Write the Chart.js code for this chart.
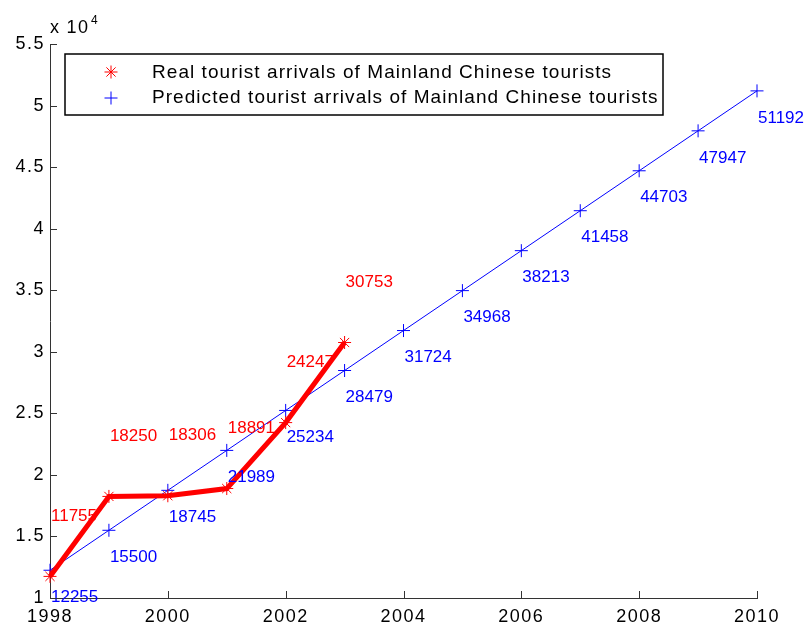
<!DOCTYPE html>
<html>
<head>
<meta charset="utf-8">
<script src="https://cdn.jsdelivr.net/npm/chart.js@4.4.1/dist/chart.umd.min.js"></script>
<style>
  body { margin: 0; background: #fff; }
  #tourismChart { display: block; }
</style>
</head>
<body>
<canvas id="tourismChart" width="807" height="630"></canvas>
<script>
// data
const realYears = [1998, 1999, 2000, 2001, 2002, 2003];
const realArrivals = [11755, 18250, 18306, 18891, 24247, 30753];
const predYears = [1998, 1999, 2000, 2001, 2002, 2003, 2004, 2005, 2006, 2007, 2008, 2009, 2010];
const predArrivals = [12255, 15500, 18745, 21989, 25234, 28479, 31724, 34968, 38213, 41458, 44703, 47947, 51192];
const legendLabels = ['Real tourist arrivals of Mainland Chinese tourists', 'Predicted tourist arrivals of Mainland Chinese tourists'];

const FONT = '"Liberation Sans", Arial, sans-serif';

function toPoints(xs, ys) {
    return xs.map((x, i) => ({ x: x, y: ys[i] }));
}

// wider tracking for axis text, like the old matlab screen fonts
const textSpacing = {
    id: 'textSpacing',
    beforeDraw(chart) {
        chart.ctx.letterSpacing = '1.5px';
    }
};

// value labels next to each point (red above, blue below)
const valueLabels = {
    id: 'valueLabels',
    afterDatasetsDraw(chart) {
        const ctx = chart.ctx;
        ctx.save();
        ctx.letterSpacing = '0px';
        ctx.font = '17px ' + FONT;
        ctx.textAlign = 'left';
        ctx.textBaseline = 'middle';
        chart.data.datasets.forEach((ds, di) => {
            const meta = chart.getDatasetMeta(di);
            const shift = di === 0 ? -60 : 27;
            ctx.fillStyle = ds.borderColor;
            meta.data.forEach((pt, i) => {
                ctx.fillText(String(ds.data[i].y), pt.x + 1, pt.y + shift);
            });
        });
        ctx.restore();
    }
};

// inward tick marks, exponent label and legend box
const matlabDecor = {
    id: 'matlabDecor',
    afterDraw(chart) {
        const ctx = chart.ctx;
        const xs = chart.scales.x;
        const ys = chart.scales.y;
        const area = chart.chartArea;
        ctx.save();
        ctx.strokeStyle = '#333';
        ctx.lineWidth = 1;
        ctx.beginPath();
        xs.ticks.forEach(t => {
            const px = Math.round(xs.getPixelForValue(t.value)) + 0.5;
            ctx.moveTo(px, area.bottom);
            ctx.lineTo(px, area.bottom - 7);
        });
        ys.ticks.forEach(t => {
            const py = Math.round(ys.getPixelForValue(t.value)) + 0.5;
            ctx.moveTo(area.left, py);
            ctx.lineTo(area.left + 7, py);
        });
        ctx.stroke();

        // x 10^4
        ctx.fillStyle = '#000';
        ctx.textAlign = 'left';
        ctx.textBaseline = 'alphabetic';
        ctx.letterSpacing = '1.3px';
        ctx.font = '18px ' + FONT;
        ctx.fillText('x 10', 50, 33);
        ctx.letterSpacing = '0px';
        ctx.font = '12px ' + FONT;
        ctx.fillText('4', 91, 24);

        // legend
        ctx.lineWidth = 1.5;
        ctx.strokeStyle = '#000';
        ctx.fillStyle = '#fff';
        ctx.fillRect(65, 54, 598, 61);
        ctx.strokeRect(65, 54, 598, 61);
        const rows = [72, 98];
        const baselines = [78, 103];
        chart.data.datasets.forEach((ds, i) => {
            drawMarker(ctx, ds.pointStyle, 111, rows[i], 6.5, ds.borderColor);
            ctx.fillStyle = '#000';
            ctx.font = '19px ' + FONT;
            ctx.letterSpacing = '1.05px';
            ctx.textBaseline = 'alphabetic';
            ctx.fillText(legendLabels[i], 152, baselines[i]);
        });
        ctx.restore();
    }
};

function drawMarker(ctx, style, x, y, r, color) {
    ctx.save();
    ctx.strokeStyle = color;
    ctx.lineWidth = 1;
    ctx.beginPath();
    ctx.moveTo(x - r, y); ctx.lineTo(x + r, y);
    ctx.moveTo(x, y - r); ctx.lineTo(x, y + r);
    if (style === 'star') {
        const d = r * 0.7071;
        ctx.moveTo(x - d, y - d); ctx.lineTo(x + d, y + d);
        ctx.moveTo(x - d, y + d); ctx.lineTo(x + d, y - d);
    }
    ctx.stroke();
    ctx.restore();
}

new Chart(document.getElementById('tourismChart'), {
    type: 'scatter',
    data: {
        datasets: [{
            label: legendLabels[0],
            data: toPoints(realYears, realArrivals),
            showLine: true,
            borderColor: '#ff0000',
            backgroundColor: '#ff0000',
            borderWidth: 5,
            pointStyle: 'star',
            pointRadius: 6.5,
            pointBorderWidth: 1,
            clip: false
        }, {
            label: legendLabels[1],
            data: toPoints(predYears, predArrivals),
            showLine: true,
            borderColor: '#0000ff',
            backgroundColor: '#0000ff',
            borderWidth: 1,
            pointStyle: 'cross',
            pointRadius: 6.5,
            pointBorderWidth: 1,
            clip: false
        }]
    },
    options: {
        responsive: false,
        animation: false,
        layout: { padding: { left: 0, top: 44, right: 50, bottom: 0 } },
        scales: {
            x: {
                type: 'linear',
                min: 1998,
                max: 2010,
                grid: { display: false, drawTicks: false },
                border: { display: true, color: '#333', width: 1 },
                ticks: {
                    stepSize: 2,
                    padding: 8,
                    color: '#000',
                    font: { family: FONT, size: 18 },
                    callback: v => String(v)
                },
                afterFit: s => { s.height = 32; }
            },
            y: {
                min: 10000,
                max: 55000,
                grid: { display: false, drawTicks: false },
                border: { display: true, color: '#333', width: 1 },
                ticks: {
                    stepSize: 5000,
                    padding: 5,
                    color: '#000',
                    font: { family: FONT, size: 18 },
                    callback: v => String(v / 10000)
                },
                afterFit: s => { s.width = 50; }
            }
        },
        plugins: {
            legend: { display: false },
            tooltip: { enabled: false }
        }
    },
    plugins: [textSpacing, valueLabels, matlabDecor]
});
</script>
</body>
</html>
